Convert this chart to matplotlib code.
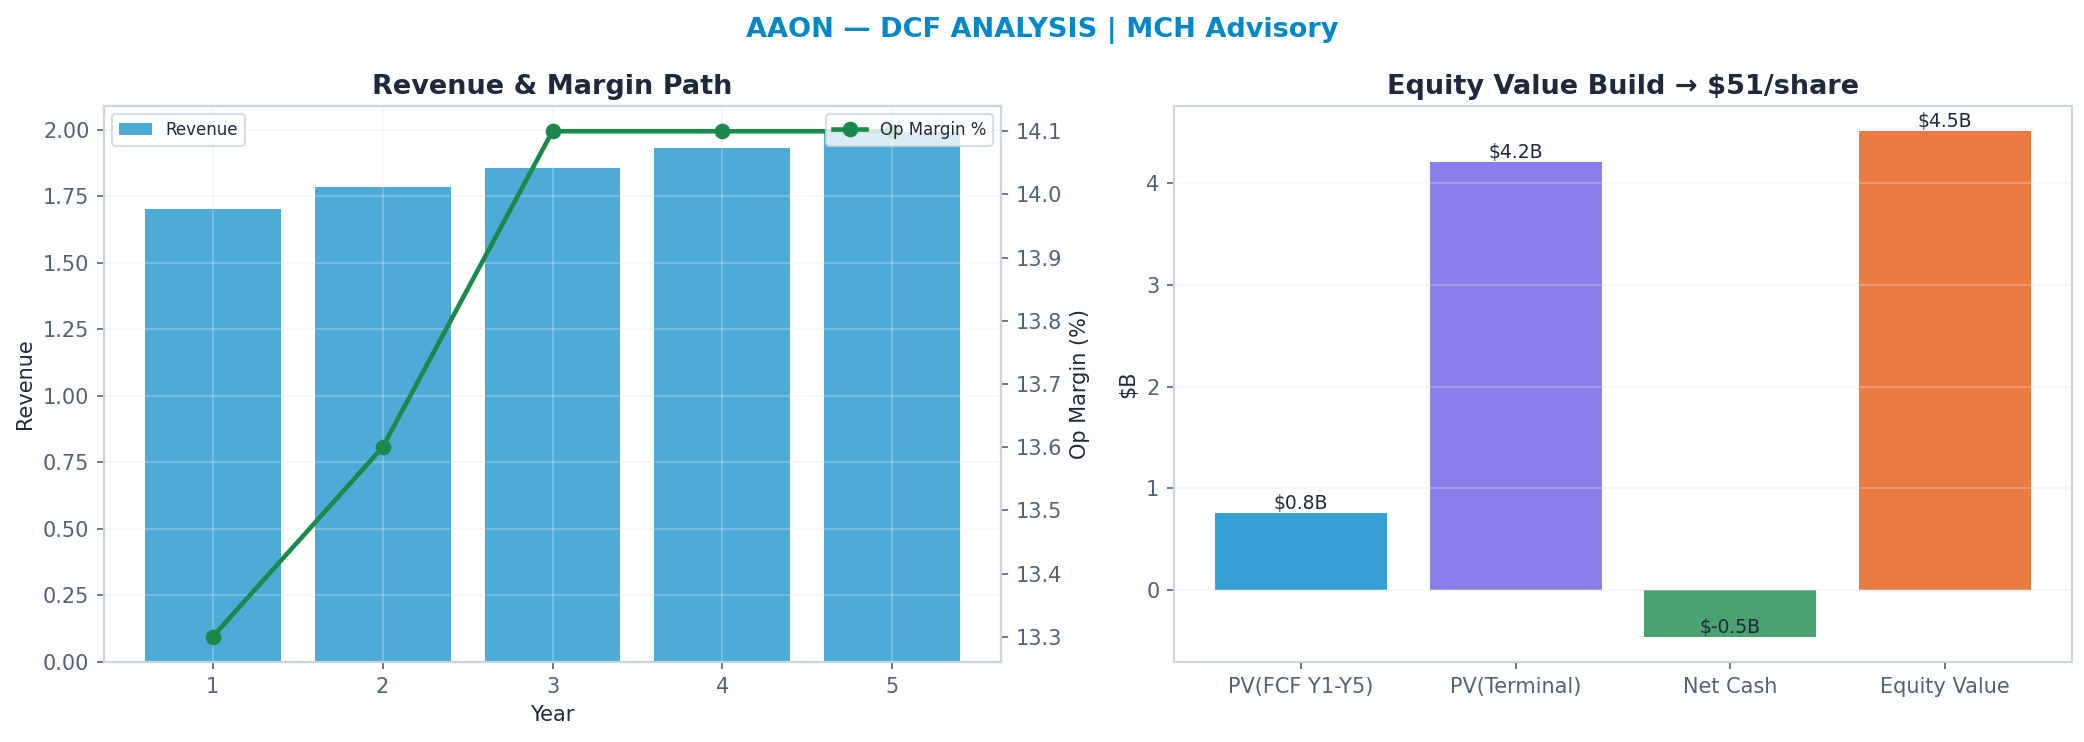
import matplotlib
matplotlib.use("Agg")
import matplotlib.pyplot as plt

# ---- data ----
years = [1, 2, 3, 4, 5]
revenue = [1.70, 1.785, 1.857, 1.931, 1.989]
op_margin = [13.3, 13.6, 14.1, 14.1, 14.1]

bridge_labels = ["PV(FCF Y1-Y5)", "PV(Terminal)", "Net Cash", "Equity Value"]
bridge_values = [0.76, 4.21, -0.46, 4.51]
bridge_colors = ["#0288C8", "#6D5FE5", "#1D8B4E", "#E75A10"]

suptitle = "AAON \u2014 DCF ANALYSIS | MCH Advisory"
left_title = "Revenue & Margin Path"
right_title = "Equity Value Build \u2192 $51/share"

# ---- style ----
tick_c = "#526176"
plt.rcParams.update({
    "font.family": ["DejaVu Sans"],
    "axes.edgecolor": "#CBD5E1",
    "axes.linewidth": 1.0,
    "xtick.color": tick_c,
    "ytick.color": tick_c,
    "xtick.labelcolor": tick_c,
    "ytick.labelcolor": tick_c,
    "xtick.labelsize": 10,
    "ytick.labelsize": 10,
    "axes.labelsize": 10,
    "axes.labelcolor": "#1E293B",
    "grid.color": "#E2E8F0",
    "grid.alpha": 0.35,
    "grid.linewidth": 0.8,
})

fig = plt.figure(figsize=(2084 / 150, 742 / 150), dpi=150)
ax1 = fig.add_axes([104 / 2084, 1 - 662 / 742, (1001 - 104) / 2084, (662 - 106) / 742])
ax3 = fig.add_axes([1174 / 2084, 1 - 662 / 742, (2072 - 1174) / 2084, (662 - 106) / 742])

# ---- left chart ----
ax1.grid(True)
ax1.bar(years, revenue, color="#0088C7", alpha=0.7, label="Revenue")
ax1.set_xlabel("Year")
ax1.set_ylabel("Revenue")
ax1.set_title(left_title, fontsize=13, fontweight="bold", color="#1E293B")
ax1.set_xticks(years)

ax2 = ax1.twinx()
ax2.plot(years, op_margin, color="#1A8A4A", linewidth=2.2, marker="o", markersize=6.5, label="Op Margin %")
ax2.set_ylabel("Op Margin (%)")
ax2.grid(False)
for sp in ax2.spines.values():
    sp.set_color("#CBD5E1")

leg1 = ax1.legend(loc="upper left", fontsize=8, framealpha=0.8, edgecolor="#CBD5E1")
leg2 = ax2.legend(loc="upper right", fontsize=8, framealpha=0.8, edgecolor="#CBD5E1")
for lg in (leg1, leg2):
    for t in lg.get_texts():
        t.set_color("#1E293B")

# ---- right chart ----
ax3.grid(True, axis="y")
xs = list(range(len(bridge_labels)))
ax3.bar(xs, bridge_values, color=bridge_colors, alpha=0.8)
for x, v in zip(xs, bridge_values):
    ax3.text(x, v, f"${v:.1f}B", ha="center", va="bottom", fontsize=9, color="#1E293B")
ax3.set_xticks(xs)
ax3.set_xticklabels(bridge_labels)
ax3.set_ylabel("$B")
ax3.set_title(right_title, fontsize=13, fontweight="bold", color="#1E293B")

fig.suptitle(suptitle, fontsize=13, fontweight="bold", color="#0288C8", x=0.5, y=0.977)

fig.savefig("out.png", dpi=150, facecolor="white")
